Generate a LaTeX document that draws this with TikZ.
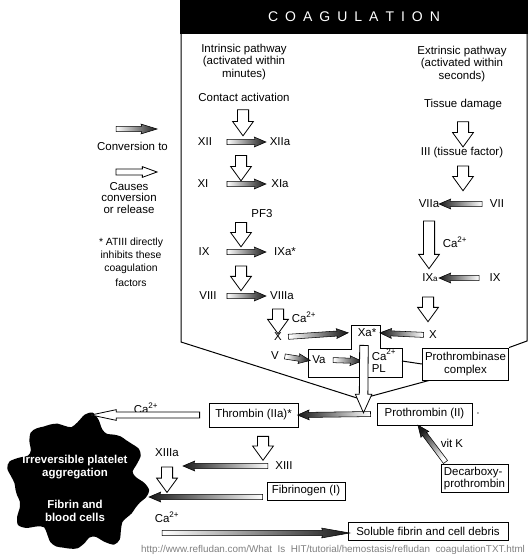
\documentclass[tikz,border=0pt]{standalone}
\usepackage{fontspec}
\setmainfont{Liberation Sans}
\usetikzlibrary{shapes,arrows,positioning,calc,arrows.meta}

% block arrow stretched from one point to another
\newcommand{\flowarrow}[4]{%
  \path let \p1=#3, \p2=#4,
    \n1={veclen(\x2-\x1,\y2-\y1)}, \n2={atan2(\y2-\y1,\x2-\x1)}, \n3={atan2(\y2-\y1,\x2-\x1)+90} in
    node[#2, minimum height=\n1, rotate=\n2, arrowangle=\n3] (#1) at ($(\p1)!0.5!(\p2)$) {};}

\tikzset{arrowangle/.style={}}

\begin{document}
\begin{tikzpicture}[x=0.75pt, y=-0.75pt,
    every node/.style={font=\fontsize{8.6}{9.4}\selectfont, inner sep=1pt},
    boxed/.style={draw, line width=0.75pt, inner sep=2pt},
    convto/.style={single arrow, draw=black, line width=0.4pt, inner sep=1.7pt, minimum width=0pt,
        single arrow head extend=1.8pt, single arrow tip angle=46, single arrow head indent=0.5pt,
        left color=white, right color=black!90, arrowangle/.style={shading angle=##1}},
    causes/.style={single arrow, draw=black, line width=0.6pt, fill=white, inner sep=3.9pt,
        minimum width=0pt, single arrow head extend=3.6pt, single arrow tip angle=72},
    thincauses/.style={causes, inner sep=1.9pt, single arrow head extend=1.8pt}]
    \useasboundingbox (0,0) rectangle (530,557);

    % title bar and outline
    \fill (180,0) rectangle (528,34);
    \node[text=white, font=\fontsize{10.5}{11}\selectfont] (title) at (354,17)
        {\spaceskip=0.5em C O A G U L A T I O N};

    % legend
    \node[convto, minimum height=41*0.75pt, single arrow tip angle=34] (legconv) at (132.5,129) {};
    \node (legconvtxt) at (132.5,146) {Conversion to};
    \node[thincauses, minimum height=41*0.75pt, single arrow tip angle=40] (legcause) at (132.5,172) {};
    \node[align=center, font=\fontsize{8.6}{8.7}\selectfont] (legcausetxt) at (129,198) {Causes\\conversion\\or release};
    \node[align=center, font=\fontsize{7.8}{9.8}\selectfont] (legatiii) at (131,262)
        {* ATIII directly\\inhibits these\\coagulation\\[1.5pt]factors};

    % intrinsic pathway
    \node[align=center] (intr) at (244,62) {Intrinsic pathway\\(activated within\\minutes)};
    \node (contact) at (244,97) {Contact activation};
    \node (xii) at (205,142) {XII};
    \node (xiia) at (280,142) {XIIa};
    \node (xi) at (203,184) {XI};
    \node (xia) at (280,184) {XIa};
    \node (pf3) at (262,214) {PF3};
    \node (ix) at (204,252) {IX};
    \node (ixa) at (285,252) {IXa*};
    \node (viii) at (208,296) {VIII};
    \node (viiia) at (282,296) {VIIIa};
    \node (caA) at (304,317) {Ca\textsuperscript{2+}};
    \node (xl) at (278,337) {X};
    \node (v) at (275,356) {V};
    \node (va) at (319,360) {Va};
    \node[align=left] (capl) at (384,361) {Ca\textsuperscript{2+}\\PL};
    \node (xa) at (367,333) {Xa*};

    % extrinsic pathway
    \node[align=center] (extr) at (462,64) {Extrinsic pathway\\(activated within\\seconds)};
    \node (tissue) at (463,105) {Tissue damage};
    \node (iii) at (462,153) {III (tissue factor)};
    \node (viia) at (429,204) {VIIa};
    \node (vii) at (497,204) {VII};
    \node (caB) at (455,242) {Ca\textsuperscript{2+}};
    \node (ixar) at (430,278) {IX{\fontsize{6}{6}\selectfont a}};
    \node (ixr) at (495,278) {IX};
    \node (xr) at (433,335) {X};
    \node[boxed, minimum width=85*0.75pt, minimum height=32*0.75pt, align=center] (ptb) at (465.5,364)
        {Prothrombinase\\complex};

    % common pathway
    \node[boxed, minimum width=89*0.75pt, minimum height=24*0.75pt] (thr) at (253.5,415) {Thrombin (IIa)*};
    \node[boxed, minimum width=95*0.75pt, minimum height=22*0.75pt] (ptn) at (424.5,414) {Prothrombin (II)};
    \node[inner sep=0pt] (dot) at (478,414) {$\cdot$};
    \node (vitk) at (452,443) {vit K};
    \node[boxed, minimum width=67*0.75pt, minimum height=27*0.75pt, align=left, inner sep=1.5pt] (dec) at (474.5,478.5)
        {Decarboxy-\\prothrombin};
    \node (caC) at (146,408) {Ca\textsuperscript{2+}};
    \node (xiiia) at (167,453) {XIIIa};
    \node (xiii) at (284,466) {XIII};
    \node[boxed, minimum width=78*0.75pt, minimum height=18*0.75pt] (fib) at (306,491) {Fibrinogen (I)};
    \node (caD) at (167,517) {Ca\textsuperscript{2+}};
    \node[boxed, minimum width=160*0.75pt, minimum height=18*0.75pt] (sol) at (428,531) {Soluble fibrin and cell debris};

    % blob
    \fill plot[smooth cycle, domain=0:354, samples=60]
        ({77.5+(65+6*sin(8*\x)+3*sin(13*\x+40))*cos(\x)}, {483+(63+6*sin(8*\x)+3*sin(13*\x+40))*sin(\x)});
    \node[text=white, font=\bfseries\fontsize{8.6}{9.2}\selectfont, align=center] (irr) at (75,467)
        {Irreversible platelet\\aggregation};
    \node[text=white, font=\bfseries\fontsize{8.6}{9.2}\selectfont, align=center] (fbc) at (75,511)
        {Fibrin and\\blood cells};

    \node[text=gray, font=\fontsize{7.4}{8}\selectfont] (url) at (333,550)
        {http://www.refludan.com/What\ \ Is\ \ HIT/tutorial/hemostasis/refludan\ \ coagulationTXT.html};

    % outline of the coagulation cascade
    \coordinate (funnelL) at (357,398);
    \coordinate (funnelR) at (368,397);
    \coordinate (funnel) at (363.5,408);
    \draw[line width=0.75pt] (181,34) -- (181,342) -- (funnelL);
    \draw[line width=0.75pt] (funnelR) -- ($(ptb.south west)!0.08!(ptb.south east)$);
    \draw[line width=0.75pt] (ptb.north east) -- (527,341) -- (527,34);
    \draw[line width=0.75pt] (351,325) -- (380,325) -- (380,348) -- (402,348) -- (402,377)
        -- (308,377) -- (308,349) -- (351,349) -- cycle;
    \draw[line width=0.75pt] (capl.east -| 402,0) -- (ptb.west);

    % conversions
    \coordinate (colA) at (224,0);
    \coordinate (colB) at (263,0);
    \coordinate (colC) at (442,0);
    \coordinate (colD) at (485,0);
    \flowarrow{cxii}{convto}{(colA |- xii)}{(colB |- xiia)}
    \flowarrow{cxi}{convto}{(colA |- xi)}{(colB |- xia)}
    \flowarrow{cix}{convto}{(colA |- ix)}{(colB |- ixa)}
    \flowarrow{cviii}{convto}{(colA |- viii)}{(colB |- viiia)}
    \flowarrow{cx}{convto}{($(xl.east)+(2,0)$)}{($(xa.west)+(-11,0)$)}
    \flowarrow{cv}{convto}{($(v.east)+(1.5,0)$)}{($(va.west)+(-3.5,0)$)}
    \flowarrow{cva}{convto}{($(va.east)+(3,0)$)}{($(capl.west)+(-11.5,0)$)}
    \flowarrow{cvii}{convto}{(colD |- vii)}{(colC |- viia)}
    \flowarrow{cixr}{convto}{($(colD |- ixr)+(-3,0)$)}{(colC |- ixar)}
    \flowarrow{cxr}{convto}{($(xr.west)+(-1,0)$)}{($(xa.east)+(5,0)$)}
    \flowarrow{cptn}{convto}{($(ptn.west)+(-3,0)$)}{($(thr.east)+(2,0)$)}
    \coordinate (xiiiend) at (186,466);
    \flowarrow{cxiii}{convto}{($(xiii.west)+(-3,0)$)}{(xiiiend)}
    \coordinate (fibend) at (152,497);
    \flowarrow{cfib}{convto}{($(fib.west |- fibend)+(-1,0)$)}{(fibend)}
    \coordinate (solstart) at (155,533);
    \flowarrow{csol}{convto, single arrow tip angle=20}{(solstart)}{($(sol.west |- solstart)+(-5,0)$)}
    \flowarrow{cvitk}{convto}{($(dec.north west)!0.1!(dec.north east)$)}{($(ptn.south west)!0.45!(ptn.south east)+(0,2)$)}

    % causes conversion or release
    \coordinate (blkL) at (241,0);
    \flowarrow{bcontact}{causes}{($(contact.south)+(-1,3)$)}{($(contact.south |- xii.north)+(-1,-4.5)$)}
    \flowarrow{bxii}{causes}{($(blkL |- xii.south)+(0,4)$)}{($(blkL |- xi.north)+(0,-1.5)$)}
    \flowarrow{bpf}{causes}{($(blkL |- pf3.south)+(0,-1)$)}{($(blkL |- ix.north)+(0,-3.5)$)}
    \flowarrow{bix}{causes}{($(blkL |- ix.south)+(0,4.6)$)}{($(blkL |- viii.north)+(0,-3.6)$)}
    \flowarrow{bviii}{causes}{($(xl.north |- viiia.south)+(0,3.6)$)}{($(xl.north)+(0,-1.6)$)}
    \flowarrow{btissue}{causes}{($(tissue.south)+(0,6)$)}{($(tissue.south |- iii.north)+(0,-3)$)}
    \flowarrow{biii}{causes}{($(iii.south)+(1,2.3)$)}{($(iii.south |- viia.north)+(1,-11.5)$)}
    \flowarrow{bviia}{causes}{($(viia.south)+(0,7.6)$)}{($(viia.south |- ixar.north)+(0,-7.6)$)}
    \flowarrow{bixar}{causes}{($(ixar.south)+(-2,9.6)$)}{($(ixar.south |- xr.north)+(-2,-11.6)$)}
    \flowarrow{bxa}{causes, inner sep=2.9pt, single arrow head extend=3pt, single arrow tip angle=48}{($(xa.south)+(-3,2)$)}{(funnel)}
    \coordinate (caend) at (98,415);
    \flowarrow{bthr}{thincauses, single arrow tip angle=24}{($(thr.west)+(-2,0)$)}{(caend)}
    \flowarrow{bthrdown}{causes}{($(thr.south)+(9.5,5)$)}{($(thr.south |- xiii.north)+(9.5,-4)$)}
    \flowarrow{bxiiia}{causes}{($(xiiia.south)+(0,4.6)$)}{($(xiiia.south)+(0,30)$)}
\end{tikzpicture}
\end{document}
